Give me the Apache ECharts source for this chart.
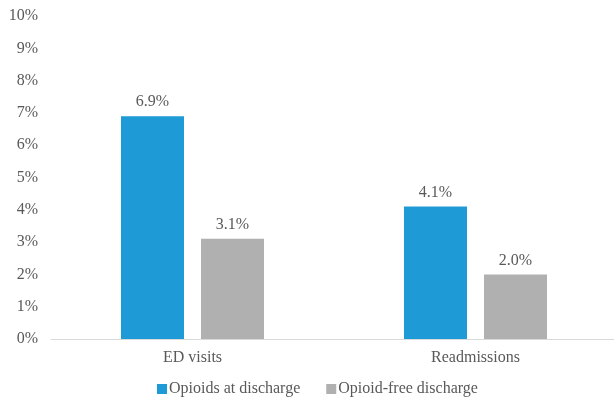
<!DOCTYPE html>
<html><head><meta charset="utf-8">
<script src="https://cdn.jsdelivr.net/npm/echarts@6/dist/echarts.min.js"></script>
<style>html,body{margin:0;padding:0;background:#fff;overflow:hidden}#c{width:618px;height:401px}</style>
</head><body><div id="c"></div>
<script>
var categories = ['ED visits', 'Readmissions'];
var seriesNames = ['Opioids at discharge', 'Opioid-free discharge'];
var opioids = [6.9, 4.1];
var opioidFree = [3.1, 2.0];
var font = '"Liberation Serif", "Times New Roman", serif';
var chart = echarts.init(document.getElementById('c'));
var lbl = { show: true, position: 'top', distance: 6, formatter: function(p){return p.value.toFixed(1)+'%';}, fontFamily: font, fontSize: 16, color: '#595959' };
chart.setOption({
  animation: false,
  textStyle: { fontFamily: font },
  legend: {
    bottom: -1, left: 152, itemWidth: 10, itemHeight: 10, itemGap: 26,
    icon: 'rect',
    textStyle: { fontFamily: font, fontSize: 16, color: '#595959', padding: [0, 0, 0, -3] },
    data: seriesNames
  },
  grid: { left: 51, right: 1, top: 16, bottom: 62 },
  xAxis: {
    type: 'category', data: categories,
    axisLine: { lineStyle: { color: '#d9d9d9' } },
    axisTick: { show: false },
    axisLabel: { fontFamily: font, fontSize: 16, color: '#595959', margin: 11 }
  },
  yAxis: {
    type: 'value', min: 0, max: 10, interval: 1,
    splitLine: { show: false },
    axisLabel: { formatter: '{value}%', fontFamily: font, fontSize: 16, color: '#595959', margin: 13 }
  },
  series: [
    { name: seriesNames[0], type: 'bar', data: opioids, barWidth: 63, barGap: '27%',
      itemStyle: { color: '#1e9ad6' }, label: lbl },
    { name: seriesNames[1], type: 'bar', data: opioidFree, barWidth: 63,
      itemStyle: { color: '#b0b0b0' }, label: lbl }
  ]
});
</script></body></html>
